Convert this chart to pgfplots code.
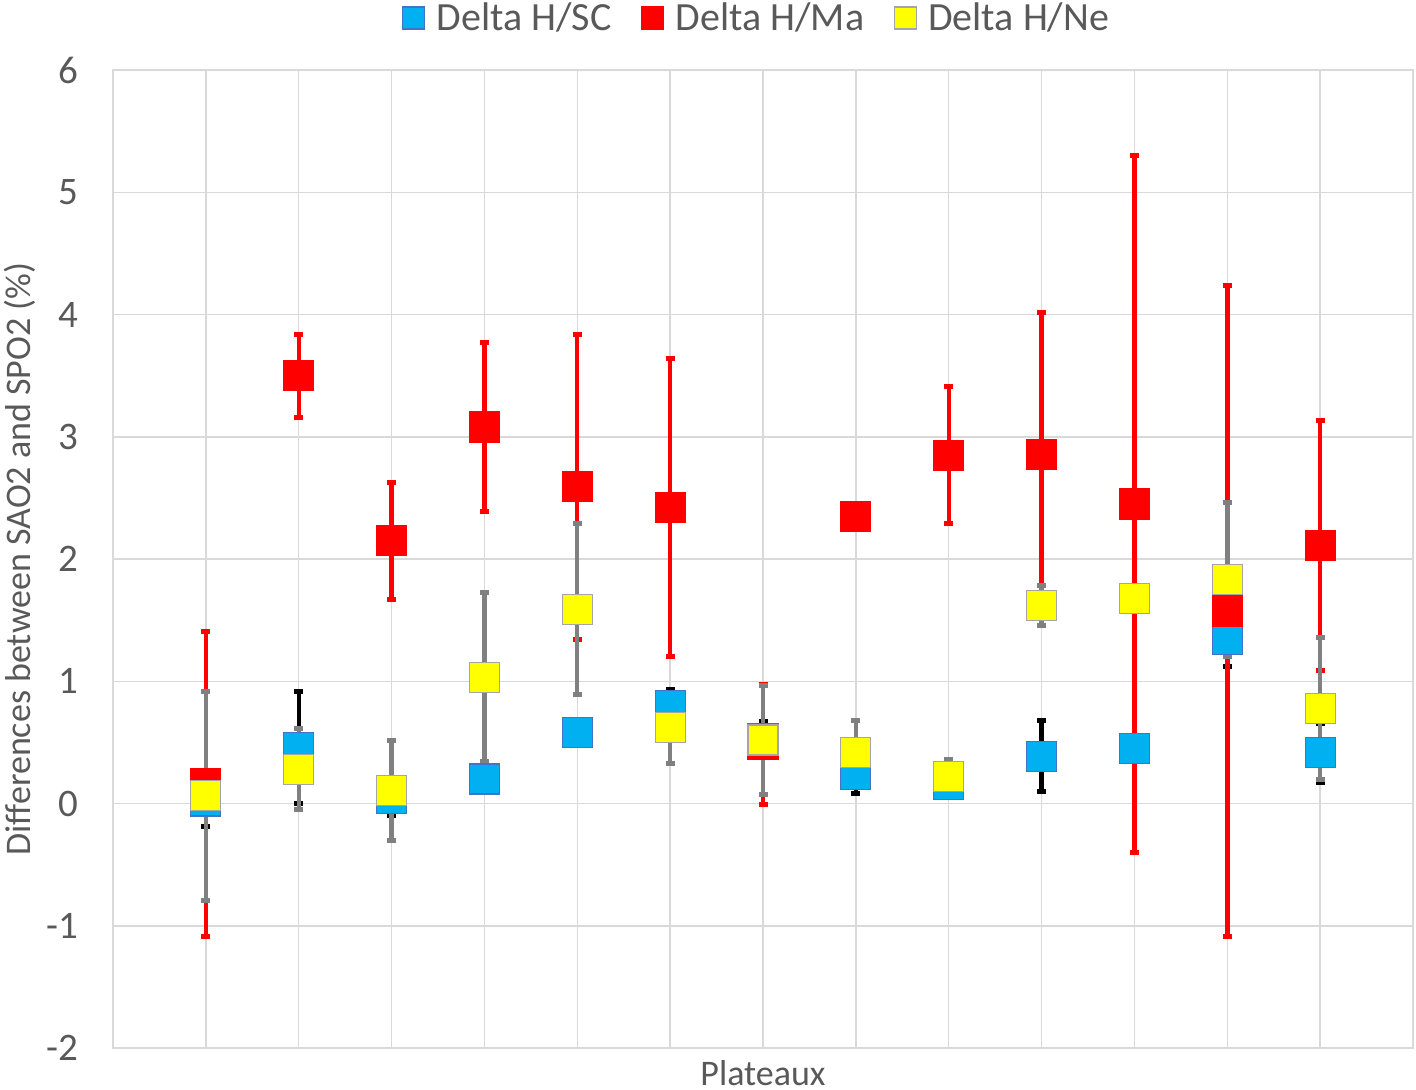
\documentclass[border=0pt]{standalone}
\usepackage{fontspec}
\setmainfont{Carlito}
\usepackage{pgfplots}
\pgfplotsset{compat=1.18}
\usepackage{pgfplotstable}

\definecolor{scblue}{HTML}{00B0F0}
\definecolor{scborder}{HTML}{4472C4}
\definecolor{mared}{HTML}{FF0000}
\definecolor{neyellow}{HTML}{FFFF00}
\definecolor{neborder}{HTML}{A5A5A5}
\definecolor{errgray}{HTML}{808080}
\definecolor{gridgray}{HTML}{D9D9D9}
\definecolor{textgray}{HTML}{595959}

\pgfplotstableread{
x y e
1 0.02 0.21
2 0.46 0.46
3 0.04 0.14
4 0.20 0.08
5 0.58 0.08
6 0.80 0.13
7 0.53 0.14
8 0.235 0.15
9 0.155 0.05
10 0.387 0.29
11 0.45 0.08
12 1.34 0.22
13 0.415 0.24
}\sctab

\pgfplotstableread{
x y e
1 0.16 1.25
2 3.50 0.34
3 2.15 0.48
4 3.08 0.69
5 2.59 1.25
6 2.42 1.22
7 0.48 0.49
8 2.35 0.08
9 2.85 0.56
10 2.856 1.16
11 2.45 2.85
12 1.575 2.66
13 2.11 1.02
}\matab

\pgfplotstableread{
x y e
1 0.065 0.855
2 0.28 0.33
3 0.106 0.41
4 1.033 0.69
5 1.59 0.70
6 0.62 0.29
7 0.52 0.445
8 0.415 0.26
9 0.22 0.14
10 1.62 0.165
11 1.68 0.08
12 1.835 0.63
13 0.775 0.58
}\netab

\begin{document}
\begin{tikzpicture}
\useasboundingbox (-56.5pt,-20.5pt) rectangle (651.5pt,524pt);
\begin{axis}[
  at={(0,0)}, anchor=south west,
  scale only axis, width=650pt, height=489pt,
  xmin=0, xmax=14, ymin=-2, ymax=6,
  ytick={-2,-1,0,1,2,3,4,5,6},
  xtick={1,2,3,4,5,6,7,8,9,10,11,12,13},
  xticklabels={},
  grid=major,
  major grid style={draw=gridgray, line width=0.75pt},
  axis line style={draw=gridgray, line width=0.75pt},
  major tick length=0pt,
  tick style={draw=none},
  /pgf/number format/assume math mode=true,
  yticklabel style={font=\fontsize{19.5}{19.5}\selectfont, text=textgray, xshift=-14pt},
  xlabel={Plateaux},
  ylabel={Differences between SAO2 and SPO2 (\%)},
  every axis x label/.style={at={(axis description cs:0.5,0)}, anchor=base, yshift=-18.5pt, font=\fontsize{18}{18}\selectfont, text=textgray},
  every axis y label/.style={at={(axis description cs:-0.0715,0.5)}, rotate=90, anchor=center, font=\fontsize{18}{18}\selectfont, text=textgray},
  legend columns=3,
  legend style={at={(axis description cs:0.5,1)}, anchor=center, yshift=26pt, xshift=-2.5pt, draw=none, fill=none,
    font=\fontsize{20}{20}\selectfont, text=textgray,
    /tikz/every odd column/.append style={column sep=4pt},
    /tikz/every even column/.append style={column sep=13pt}},
  legend image code/.code={\draw[#1, mark size=5.5pt] plot coordinates {(0pt,0pt)};},
  clip=false,
]
% error bars first
\addplot[only marks, mark=none, forget plot,
  error bars/.cd, y dir=both, y explicit,
  error bar style={draw=black, line width=2.2pt},
  error mark=|, error mark options={draw=black, line width=2.5pt, mark size=2.25pt}]
  table[x=x, y=y, y error=e] {\sctab};
\addplot[only marks, mark=none, forget plot,
  error bars/.cd, y dir=both, y explicit,
  error bar style={draw=mared, line width=2.2pt},
  error mark=|, error mark options={draw=mared, line width=2.5pt, mark size=2.25pt}]
  table[x=x, y=y, y error=e] {\matab};
\addplot[only marks, mark=none, forget plot,
  error bars/.cd, y dir=both, y explicit,
  error bar style={draw=errgray, line width=2.2pt},
  error mark=|, error mark options={draw=errgray, line width=2.5pt, mark size=2.25pt}]
  table[x=x, y=y, y error=e] {\netab};
% markers
\addplot[only marks, mark=square*, mark size=7.5pt,
  mark options={fill=scblue, draw=scborder, line width=0.6pt}]
  table[x=x, y=y] {\sctab};
\addlegendentry{Delta H/SC}
\addplot[only marks, mark=square*, mark size=7.5pt,
  mark options={fill=mared, draw=mared, line width=0.6pt}]
  table[x=x, y=y] {\matab};
\addlegendentry{Delta H/Ma}
\addplot[only marks, mark=square*, mark size=7.5pt,
  mark options={fill=neyellow, draw=neborder, line width=0.6pt}]
  table[x=x, y=y] {\netab};
\addlegendentry{Delta H/Ne}
\end{axis}
\end{tikzpicture}
\end{document}
